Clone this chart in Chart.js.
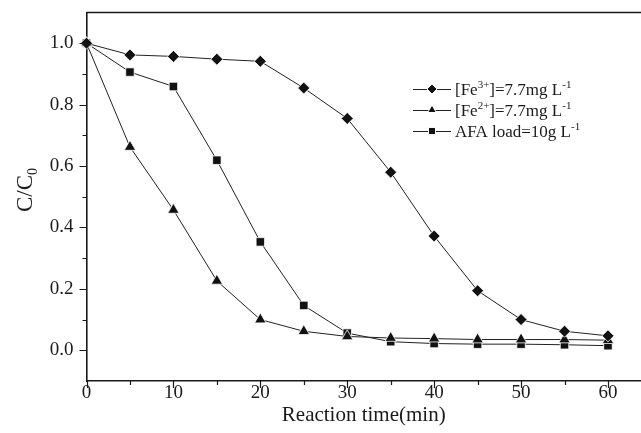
<!DOCTYPE html>
<html><head><meta charset="utf-8">
<script src="https://cdn.jsdelivr.net/npm/chart.js@4"></script>
<style>html,body{margin:0;padding:0;background:#fff}#wrap{width:641px;height:433px;position:relative}</style>
</head><body><div id="wrap"><canvas id="c" width="641" height="433"></canvas></div>
<script>
const times = [0, 5, 10, 15, 20, 25, 30, 35, 40, 45, 50, 55, 60];
const fe3Values = [1.0, 0.962, 0.957, 0.948, 0.941, 0.854, 0.755, 0.58, 0.372, 0.194, 0.1, 0.062, 0.047];
const fe2Values = [1.0, 0.662, 0.457, 0.226, 0.1, 0.062, 0.045, 0.04, 0.038, 0.035, 0.035, 0.035, 0.033];
const afaValues = [1.0, 0.906, 0.859, 0.619, 0.353, 0.146, 0.056, 0.028, 0.022, 0.02, 0.02, 0.018, 0.015];
const xTickValues = [0, 10, 20, 30, 40, 50, 60];
const xMinorTickValues = [5, 15, 25, 35, 45, 55];
const yTickValues = [0.0, 0.2, 0.4, 0.6, 0.8, 1.0];
const yMinorTickValues = [0.1, 0.3, 0.5, 0.7, 0.9];
const xTitle = 'Reaction time(min)';
const yTitle = [['C/C', ''], ['0', 'sub']];
const legendLabels = [
  [['[Fe', ''], ['3+', 'sup'], [']=7.7mg L', ''], ['-1', 'sup']],
  [['[Fe', ''], ['2+', 'sup'], [']=7.7mg L', ''], ['-1', 'sup']],
  [['AFA load=10g L', ''], ['-1', 'sup']]
];
const pointStyles = ['rectRot', 'triangle', 'rect'];
const pointRadii = [6, 6.6, 6];

const FONT = '"Liberation Serif", "Times New Roman", serif';
const INK = '#1a1a1a';

function toXY(vals) { return times.map((t, i) => ({x: t, y: vals[i]})); }

function ds(vals, idx) {
  return {
    data: toXY(vals),
    borderColor: '#222',
    borderWidth: 1,
    pointStyle: pointStyles[idx],
    pointRadius: pointRadii[idx],
    pointBackgroundColor: '#111',
    pointBorderColor: '#fff',
    pointBorderWidth: 0.8,
    tension: 0,
    clip: false
  };
}

function drawSegments(ctx, segs, x, y, size) {
  let cx = x;
  for (const [txt, kind] of segs) {
    if (kind === 'sup') {
      ctx.font = Math.round(size * 0.62) + 'px ' + FONT;
      ctx.fillText(txt, cx, y - size * 0.42);
    } else if (kind === 'sub') {
      ctx.font = Math.round(size * 0.62) + 'px ' + FONT;
      ctx.fillText(txt, cx, y + size * 0.22);
    } else {
      ctx.font = size + 'px ' + FONT;
      ctx.fillText(txt, cx, y);
    }
    cx += ctx.measureText(txt).width;
  }
  return cx - x;
}

function measureSegments(ctx, segs, size) {
  let w = 0;
  for (const [txt, kind] of segs) {
    ctx.font = (kind ? Math.round(size * 0.62) : size) + 'px ' + FONT;
    w += ctx.measureText(txt).width;
  }
  return w;
}

const decor = {
  id: 'decor',
  afterDraw(chart) {
    const ctx = chart.ctx;
    const a = chart.chartArea;
    const xs = chart.scales.x, ys = chart.scales.y;
    ctx.save();
    ctx.strokeStyle = INK;
    ctx.fillStyle = INK;
    // top border
    ctx.lineWidth = 1.6;
    ctx.beginPath();
    ctx.moveTo(a.left, a.top);
    ctx.lineTo(a.right, a.top);
    ctx.stroke();
    // ticks
    ctx.lineWidth = 1.2;
    ctx.beginPath();
    for (const v of xTickValues) { const p = Math.round(xs.getPixelForValue(v)) + 0.5; ctx.moveTo(p, a.bottom); ctx.lineTo(p, a.bottom + 7); }
    for (const v of xMinorTickValues) { const p = Math.round(xs.getPixelForValue(v)) + 0.5; ctx.moveTo(p, a.bottom); ctx.lineTo(p, a.bottom + 4); }
    for (const v of yTickValues) { const p = Math.round(ys.getPixelForValue(v)) + 0.5; ctx.moveTo(a.left, p); ctx.lineTo(a.left - 7, p); }
    for (const v of yMinorTickValues) { const p = Math.round(ys.getPixelForValue(v)) + 0.5; ctx.moveTo(a.left, p); ctx.lineTo(a.left - 4, p); }
    ctx.stroke();
    // x title
    ctx.textBaseline = 'alphabetic';
    ctx.font = '21px ' + FONT;
    ctx.textAlign = 'center';
    ctx.fillText(xTitle, (a.left + a.right) / 2, 421);
    ctx.textAlign = 'left';
    // y title
    const tw = measureSegments(ctx, yTitle, 23);
    ctx.save();
    ctx.translate(32, 190);
    ctx.rotate(-Math.PI / 2);
    drawSegments(ctx, yTitle, -tw / 2, 0, 23);
    ctx.restore();
    // legend
    chart.data.datasets.forEach((d, i) => {
      const y = 89 + 21 * i;
      ctx.strokeStyle = '#222';
      ctx.lineWidth = 1;
      ctx.beginPath();
      ctx.moveTo(413, y + 0.5); ctx.lineTo(451, y + 0.5);
      ctx.stroke();
      ctx.fillStyle = '#111';
      ctx.strokeStyle = '#fff';
      Chart.helpers.drawPoint(ctx, {pointStyle: pointStyles[i], radius: 5, rotation: 0, borderWidth: 0.6}, 432, y);
      ctx.fillStyle = INK;
      drawSegments(ctx, legendLabels[i], 455, y + 6, 17);
    });
    ctx.restore();
  }
};

new Chart(document.getElementById('c'), {
  type: 'line',
  data: { datasets: [ds(fe3Values, 0), ds(fe2Values, 1), ds(afaValues, 2)] },
  options: {
    responsive: false,
    animation: false,
    devicePixelRatio: 1,
    layout: { autoPadding: false, padding: { top: 12.5, left: 0, right: 0, bottom: 0 } },
    plugins: { legend: { display: false }, tooltip: { enabled: false } },
    scales: {
      x: {
        type: 'linear', min: 0, max: 63.8,
        grid: { display: false, drawTicks: false, tickLength: 0 },
        border: { display: true, color: INK, width: 1.6 },
        ticks: { font: { family: FONT, size: 19 }, color: INK, padding: 1, maxRotation: 0 },
        afterBuildTicks: s => { s.ticks = xTickValues.map(v => ({ value: v })); },
        afterFit: s => { s.height = 52; s.paddingLeft = 0; s.paddingRight = 0; }
      },
      y: {
        type: 'linear', min: -0.1, max: 1.1,
        grid: { display: false, drawTicks: false, tickLength: 0 },
        border: { display: true, color: INK, width: 1.6 },
        ticks: { font: { family: FONT, size: 19 }, color: INK, padding: 13, callback: v => Number(v).toFixed(1) },
        afterBuildTicks: s => { s.ticks = yTickValues.map(v => ({ value: v })); },
        afterFit: s => { s.width = 86.5; s.paddingTop = 0; s.paddingBottom = 0; }
      }
    }
  },
  plugins: [decor]
});
</script>
</body></html>
